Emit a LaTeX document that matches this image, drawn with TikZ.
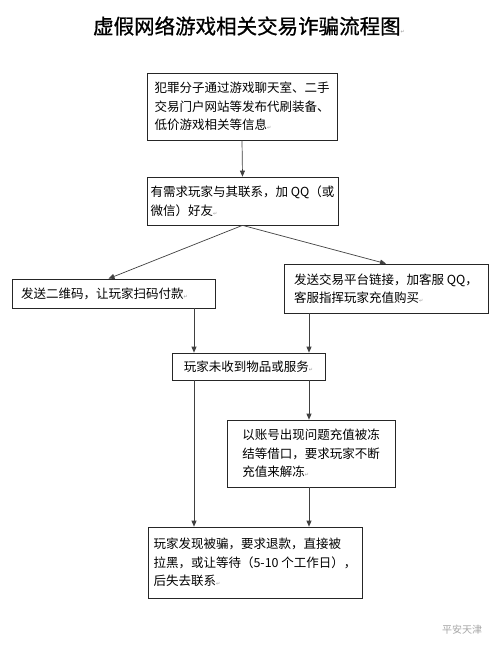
\documentclass[tikz,border=0pt]{standalone}
\usepackage{fontspec}
\setmainfont{Noto Sans CJK SC}
\newfontfamily\titlefont[FakeBold=0.8]{Noto Sans CJK SC}
\newfontfamily\markfont{DejaVu Sans}
\usetikzlibrary{arrows.meta}
\tikzstyle{box}+=[draw=black!85,line width=0.7pt,align=left,inner xsep=0pt,inner ysep=0pt,font=\fontsize{12.5}{18.5}\selectfont]
\tikzstyle{AR}+=[draw=black!75,line width=0.7pt,-{Triangle[length=6pt,width=5pt]}]
\newcommand{\pmark}{{\color{black!40}\markfont\tiny ↵}}

\begin{document}
\begin{tikzpicture}[x=1pt,y=-1pt]
        \useasboundingbox[fill=white] (0,0) rectangle (499,658);
        \node (title) at (249,26) {\titlefont\fontsize{20.5}{22}\selectfont 虚假网络游戏相关交易诈骗流程图\pmark};

        \node[box,minimum width=190pt,minimum height=67pt] (post) at (242,106.5)
            {犯罪分子通过游戏聊天室、二手\\交易门户网站等发布代刷装备、\\低价游戏相关等信息\pmark};
        \node[box,minimum width=191pt,minimum height=48pt] (contact) at (242.5,201)
            {有需求玩家与其联系，加 QQ（或\\微信）好友\pmark};
        \node[box,minimum width=203pt,minimum height=29pt] (qrcode) at (113.5,293.5)
            {发送二维码，让玩家扫码付款\pmark\hspace{18pt}};
        \node[box,minimum width=204pt,minimum height=49pt] (link) at (386,288.5)
            {发送交易平台链接，加客服 QQ，\\客服指挥玩家充值购买\pmark};
        \node[box,minimum width=153pt,minimum height=27pt] (nogoods) at (248.5,366.5)
            {玩家未收到物品或服务\pmark};
        \node[box,minimum width=168pt,minimum height=67pt] (frozen) at (311,453.5)
            {以账号出现问题充值被冻\\结等借口，要求玩家不断\\充值来解冻\pmark};
        \node[box,minimum width=214pt,minimum height=71pt] (cheated) at (255,562.5)
            {玩家发现被骗，要求退款，直接被\\拉黑，或让等待（5-10 个工作日），\\后失去联系\pmark};

        \node[text=black!35,font=\fontsize{10}{12}\selectfont] (logo) at (462,630) {平安天津};

        % connectors
        \coordinate (colL) at (194,0);
        \coordinate (colR) at (309,0);
        \draw[AR] (post.south) -- (contact.north);
        \draw[AR] (contact.south) -- ([xshift=-5pt]qrcode.north);
        \draw[AR] (contact.south) -- (link.north);
        \draw[AR] (qrcode.south -| colL) -- (nogoods.north -| colL);
        \draw[AR] (link.south -| colR) -- (nogoods.north -| colR);
        \draw[AR] (nogoods.south -| colL) -- (cheated.north -| colL);
        \draw[AR] (nogoods.south -| colR) -- (frozen.north -| colR);
        \draw[AR] (frozen.south -| colR) -- (cheated.north -| colR);
    \end{tikzpicture}
\end{document}
